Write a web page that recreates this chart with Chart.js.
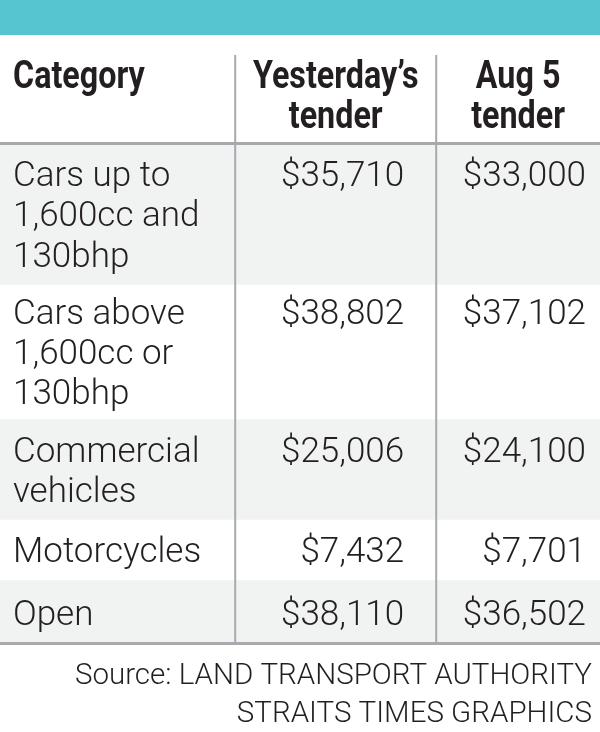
<!DOCTYPE html>
<html lang="en">
<head>
<meta charset="utf-8">
<title>COE tender prices</title>
<script src="https://cdn.jsdelivr.net/npm/chart.js@4.4.0/dist/chart.umd.min.js"></script>
<style>
  html, body { margin: 0; padding: 0; background: #fff; }
  #wrap { width: 600px; height: 732px; }
</style>
</head>
<body>
<div id="wrap"><canvas id="coeChart" width="600" height="732"></canvas></div>
<script>
// table content
const headers = [['Category'], ['Yesterday\u2019s', 'tender'], ['Aug 5', 'tender']];
const categories = [
  ['Cars up to', '1,600cc and', '130bhp'],
  ['Cars above', '1,600cc or', '130bhp'],
  ['Commercial', 'vehicles'],
  ['Motorcycles'],
  ['Open']
];
const yesterdayTender = [35710, 38802, 25006, 7432, 38110];
const aug5Tender = [33000, 37102, 24100, 7701, 36502];
const sourceLines = ['Source: LAND TRANSPORT AUTHORITY', 'STRAITS TIMES GRAPHICS'];

// layout (y axis is measured in text lines)
const headerSpan = 2.7;
const rowPads = [0.5, 0.35, 0.5, 0.5, 0.62];
const colEdges = [0, 0.392, 0.727, 1];
const teal = '#56c5d0';
const rowGrey = '#f1f3f3';
const ruleColor = '#a7a9ac';
const ink = '#231f20';

const fmt = v => '$' + v.toLocaleString('en-US');

// row spans along the y scale
const spans = [[0, headerSpan]];
categories.forEach((c, i) => {
  const start = spans[spans.length - 1][1];
  spans.push([start, start + c.length + rowPads[i]]);
});
const total = spans[spans.length - 1][1];

const datasets = spans.map((s, i) => ({
  label: i === 0 ? 'header' : categories[i - 1].join(' '),
  data: [s],
  backgroundColor: i % 2 === 1 ? rowGrey : '#ffffff',
  borderWidth: 0,
  grouped: false,
  barPercentage: 1,
  categoryPercentage: 1
}));

const tablePlugin = {
  id: 'tableText',
  beforeDraw(chart) {
    const ctx = chart.ctx;
    ctx.save();
    ctx.fillStyle = teal;
    ctx.fillRect(0, 0, chart.width, chart.chartArea.top);
    ctx.restore();
  },
  afterDatasetsDraw(chart) {
    const { ctx, chartArea: area, scales: { y } } = chart;
    const w = area.right - area.left;
    const colX = colEdges.map(f => area.left + f * w);
    ctx.save();

    // rules
    ctx.strokeStyle = ruleColor;
    ctx.lineWidth = 2;
    [colX[1], colX[2]].forEach(x => {
      ctx.beginPath();
      ctx.moveTo(x, y.getPixelForValue(0.5));
      ctx.lineTo(x, area.bottom);
      ctx.stroke();
    });
    ctx.lineWidth = 3;
    [headerSpan, total].forEach(v => {
      const py = y.getPixelForValue(v) - (v === total ? 1.5 : 0);
      ctx.beginPath();
      ctx.moveTo(area.left, py);
      ctx.lineTo(area.right, py);
      ctx.stroke();
    });

    // header
    ctx.fillStyle = ink;
    ctx.font = '700 38px Roboto';
    headers.forEach((lines, c) => {
      lines.forEach((t, i) => {
        const py = y.getPixelForValue(1.32 + i);
        const px = c === 0 ? colX[0] + 13 : (colX[c] + colX[c + 1]) / 2;
        ctx.save();
        ctx.translate(px, py);
        ctx.scale(0.85, 1);
        ctx.textAlign = c === 0 ? 'left' : 'center';
        ctx.fillText(t, 0, 0);
        ctx.restore();
      });
    });

    // body
    ctx.font = '300 35px Roboto';
    const cap = 12.5;
    categories.forEach((lines, r) => {
      const [s, e] = spans[r + 1];
      const mid = (s + e) / 2;
      const first = mid - (lines.length - 1) / 2;
      ctx.textAlign = 'left';
      lines.forEach((t, i) => {
        ctx.fillText(t, colX[0] + 13, y.getPixelForValue(first + i) + cap);
      });
      const by = y.getPixelForValue(first) + cap;
      ctx.textAlign = 'right';
      ctx.fillText(fmt(yesterdayTender[r]), colX[2] - 32, by);
      ctx.fillText(fmt(aug5Tender[r]), colX[3] - 14, by);
    });

    // source
    ctx.font = '300 29.5px Roboto';
    ctx.textAlign = 'right';
    sourceLines.forEach((t, i) => {
      ctx.fillText(t, chart.width - 8, area.bottom + 39 + i * 38);
    });
    ctx.restore();
  }
};

new Chart(document.getElementById('coeChart'), {
  type: 'bar',
  data: { labels: ['table'], datasets: datasets },
  options: {
    responsive: false,
    animation: false,
    layout: { padding: { top: 35, bottom: 87, left: 0, right: 0 } },
    plugins: { legend: { display: false }, tooltip: { enabled: false } },
    scales: {
      x: { display: false },
      y: { type: 'linear', min: 0, max: total, reverse: true, display: false }
    }
  },
  plugins: [tablePlugin]
});
</script>
</body>
</html>
